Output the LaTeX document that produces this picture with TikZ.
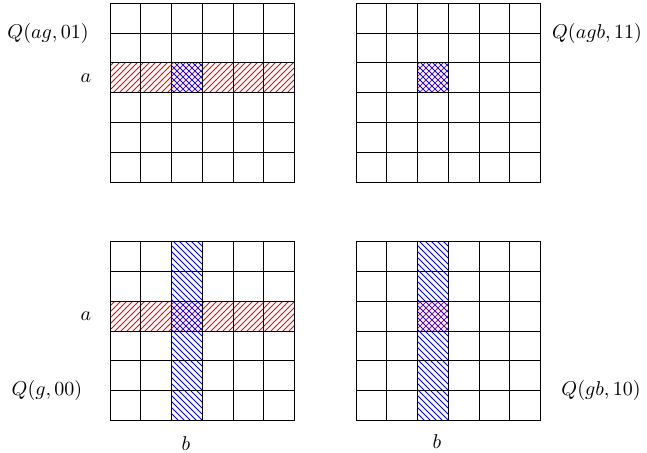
\documentclass[tikz,border=0pt]{standalone}
\usetikzlibrary{patterns}
\newcommand{\cellgrid}[2]{%
  \foreach \i in {0,...,6}{%
    \draw[gridline] ({#1+\i*30.75},#2) -- ({#1+\i*30.75},{#2+178.8});
    \draw[gridline] (#1,{#2+\i*29.8}) -- ({#1+184.5},{#2+\i*29.8});
  }}
\tikzset{
  gridline/.style={draw=black, line width=0.45pt},
  redhatch/.style={pattern=north east lines, pattern color=red},
  bluehatch/.style={pattern=north west lines, pattern color=blue},
  lbl/.style={inner sep=0pt, font=\normalsize}
}
\begin{document}
\begin{tikzpicture}[x=0.5pt, y=-0.5pt]
\useasboundingbox (0,0) rectangle (647,452);
% top-left
\fill[redhatch] (110,{3.3+2*29.8}) rectangle (294.5,{3.3+3*29.8});
\fill[bluehatch] ({110+2*30.75},{3.3+2*29.8}) rectangle ({110+3*30.75},{3.3+3*29.8});
\cellgrid{110}{3.3}
% top-right
\fill[redhatch] ({356+2*30.75},{3.3+2*29.8}) rectangle ({356+3*30.75},{3.3+3*29.8});
\fill[bluehatch] ({356+2*30.75},{3.3+2*29.8}) rectangle ({356+3*30.75},{3.3+3*29.8});
\cellgrid{356}{3.3}
% bottom-left
\fill[redhatch] (110,{241.7+2*29.8}) rectangle (294.5,{241.7+3*29.8});
\fill[bluehatch] ({110+2*30.75},241.7) rectangle ({110+3*30.75},{241.7+178.8});
\cellgrid{110}{241.7}
% bottom-right
\fill[bluehatch] ({356+2*30.75},241.7) rectangle ({356+3*30.75},{241.7+178.8});
\fill[redhatch] ({356+2*30.75},{241.7+2*29.8}) rectangle ({356+3*30.75},{241.7+3*29.8});
\cellgrid{356}{241.7}
% labels
\node[lbl] (qag) at (48,33.5) {$Q(ag,01)$};
\node[lbl] (a1) at (86,78) {$a$};
\node[lbl] (qagb) at (597,33.5) {$Q(agb,11)$};
\node[lbl] (a2) at (86,316) {$a$};
\node[lbl] (qg) at (47,390) {$Q(g,00)$};
\node[lbl] (b1) at (186,444) {$b$};
\node[lbl] (qgb) at (601,390) {$Q(gb,10)$};
\node[lbl] (b2) at (437,442) {$b$};
\end{tikzpicture}
\end{document}
